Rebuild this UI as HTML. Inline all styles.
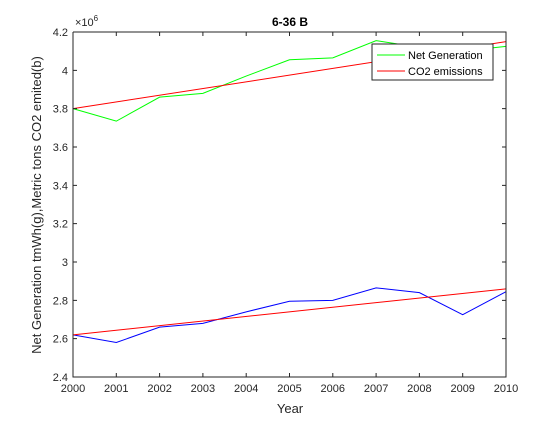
<!DOCTYPE html>
<html><head><meta charset="utf-8"><style>body{margin:0;background:#fff}svg text{font-family:"Liberation Sans",sans-serif}</style></head>
<body>
<svg id="c" width="560" height="420" xmlns="http://www.w3.org/2000/svg">
<rect width="560" height="420" fill="#fff"/>
<rect x="73" y="32" width="433" height="345" fill="#fff" stroke="none"/>
<g id="g"></g>
</svg>
<script>
const years=[2000,2001,2002,2003,2004,2005,2006,2007,2008,2009,2010];
const netGen=[3.80,3.735,3.86,3.88,3.97,4.055,4.065,4.155,4.12,4.10,4.125];
const co2=[2.62,2.58,2.66,2.68,2.74,2.795,2.80,2.865,2.84,2.725,2.845];
const fitNet=[3.80,4.15];
const fitCo2=[2.62,2.86];
const yTicks=["2.4","2.6","2.8","3","3.2","3.4","3.6","3.8","4","4.2"];
const yVals=[2.4,2.6,2.8,3.0,3.2,3.4,3.6,3.8,4.0,4.2];
const X=v=>73+(v-2000)/10*433;
const Y=v=>377-(v-2.4)/1.8*345;
const g=document.getElementById('g');
const NS='http://www.w3.org/2000/svg';
function mk(t,a){const e=document.createElementNS(NS,t);for(const k in a)e.setAttribute(k,a[k]);g.appendChild(e);return e;}
function line(vals,xs,col,name){const p=mk('polyline',{points:vals.map((v,i)=>X(xs[i])+','+Y(v)).join(' '),fill:'none',stroke:col,'stroke-width':1});

}
line(netGen,years,'#00ff00','net-generation-line');
line(co2,years,'#0000ff','co2-emissions-line');
line(fitNet,[2000,2010],'#ff0000','net-generation-fit');
line(fitCo2,[2000,2010],'#ff0000','co2-fit');
// axes box
const ax=mk('path',{d:'M73,32V377H506V32H73',fill:'none',stroke:'#262626','stroke-width':1});


years.forEach(y=>{const x=X(y);mk('path',{d:`M${x},377v-4M${x},32v4`,stroke:'#262626'});
const t=mk('text',{x:x,y:392,'font-size':11,'text-anchor':'middle',fill:'#262626'});t.textContent=y;

});
yVals.forEach((v,i)=>{const y=Y(v);mk('path',{d:`M73,${y}h4M506,${y}h-4`,stroke:'#262626'});
const t=mk('text',{x:68,y:y+4,'font-size':11,'text-anchor':'end',fill:'#262626'});t.textContent=yTicks[i];

});
</script>
<svg style="position:absolute;left:0;top:0" width="560" height="420" xmlns="http://www.w3.org/2000/svg">
<text x="75" y="26" font-size="11" fill="#262626">×10<tspan dy="-5" font-size="8">6</tspan></text>
<text x="290" y="26" font-size="12" font-weight="bold" text-anchor="middle" fill="#000">6-36 B</text>
<text x="290" y="413" font-size="13" text-anchor="middle" fill="#262626">Year</text>
<text transform="translate(41,205) rotate(-90)" font-size="13" text-anchor="middle" fill="#262626">Net Generation tmWh(g),Metric tons CO2 emited(b)</text>
<g>
<rect x="372" y="44" width="121" height="36" fill="#fff" stroke="#262626"/>
<line x1="377" y1="55" x2="405" y2="55" stroke="#00ff00"/>
<text x="408" y="59" font-size="11" fill="#000">Net Generation</text>
<line x1="377" y1="71" x2="405" y2="71" stroke="#ff0000"/>
<text x="408" y="75" font-size="11" fill="#000">CO2 emissions</text>
</g>
</svg>
</body></html>
